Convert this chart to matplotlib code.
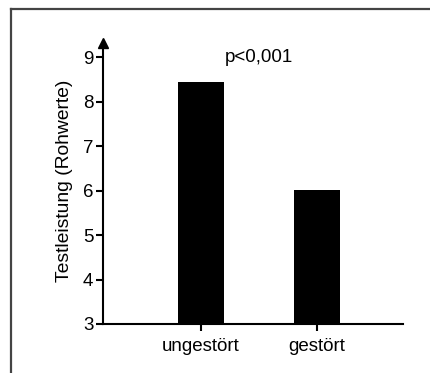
import matplotlib
matplotlib.use("Agg")
import matplotlib.pyplot as plt
from matplotlib.lines import Line2D

categories = ["ungestört", "gestört"]
values = [8.44, 6.01]
y_ticks = [3, 4, 5, 6, 7, 8, 9]
p_text = "p<0,001"
y_label = "Testleistung (Rohwerte)"

plt.rcParams['font.family'] = ['Liberation Sans', 'DejaVu Sans']
FS = 13.5

W, H = 430, 373
fig = plt.figure(figsize=(W/100, H/100), dpi=100)
fig.patch.set_facecolor("white")

left, right = 103/W, 403/W
bottom, top = 1 - 324/H, 1 - 37/H
ax = fig.add_axes([left, bottom, right-left, top-bottom])

x = list(range(len(categories)))
ax.bar(x, values, width=0.4, color="black", bottom=0, zorder=3)

ax.set_xlim(-0.845, 1.74)
ax.set_ylim(3, 9.45)
ax.set_yticks(y_ticks)
ax.set_xticks(x)
ax.set_xticklabels(categories)

for s in ["top", "right"]:
    ax.spines[s].set_visible(False)
for s in ["left", "bottom"]:
    ax.spines[s].set_linewidth(1.5)
ax.spines["left"].set_bounds(3, 9.3)
ax.tick_params(axis="both", width=1.5, length=5, labelsize=FS, direction="out", colors="black")
ax.tick_params(axis="y", pad=2)
ax.tick_params(axis="x", pad=5)

# arrow head on the y axis
ax.plot([-0.845], [9.32], marker="^", color="black", markersize=6.5, clip_on=False, zorder=5)

ax.set_ylabel(y_label, fontsize=FS + 0.4, labelpad=7)
ax.text(0.5, 9.0, p_text, ha="center", va="center", fontsize=FS)

# figure border (top and left)
fig.add_artist(Line2D([10.5/W, 10.5/W], [0, 1 - 8.5/H], color="#444444", lw=1.6,
                      transform=fig.transFigure))
fig.add_artist(Line2D([10.5/W, 1], [1 - 8.5/H, 1 - 8.5/H], color="#444444", lw=1.6,
                      transform=fig.transFigure))

fig.savefig("out.png", dpi=100)
